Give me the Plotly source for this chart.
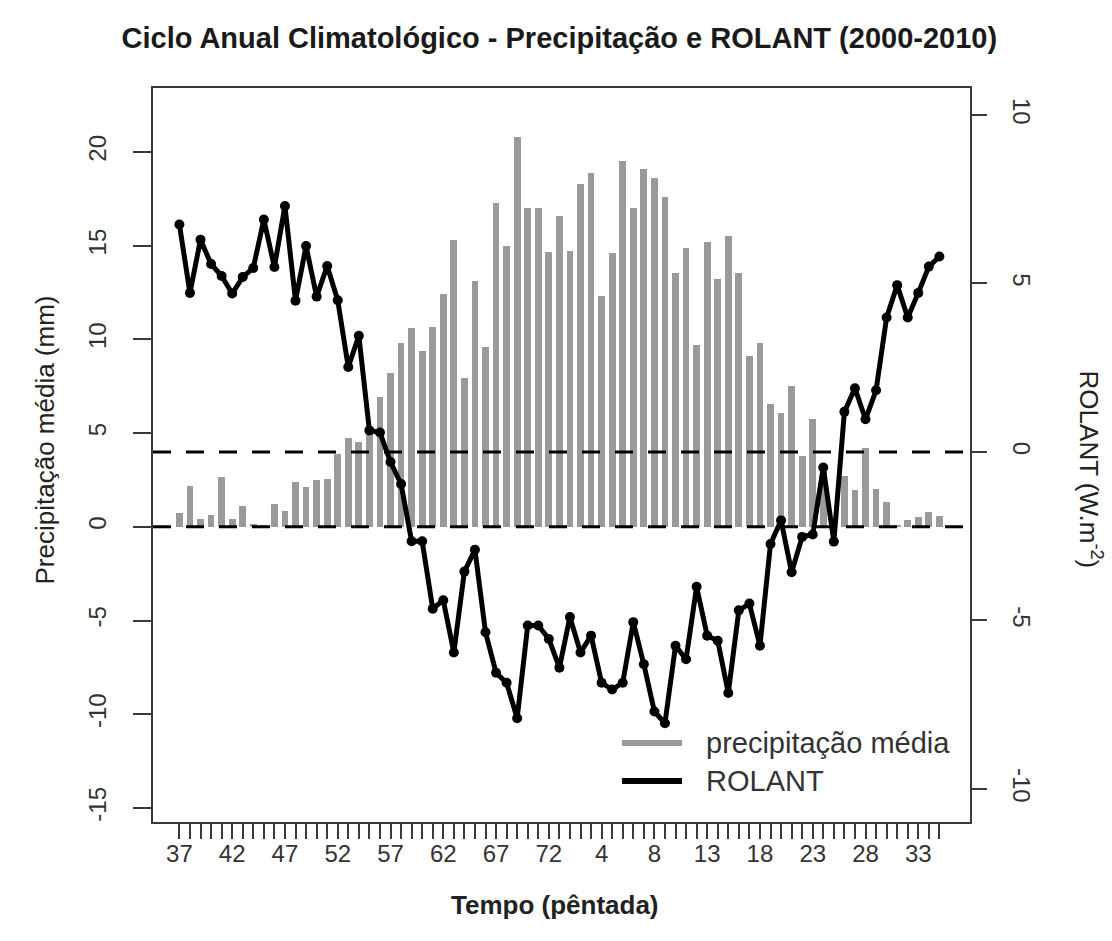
import plotly.graph_objects as go

# --- data -------------------------------------------------------------
pentadas = list(range(37, 74)) + list(range(1, 37))          # 73 pentads, Jul -> Jun
indice = list(range(1, len(pentadas) + 1))

precip_media = [0.75, 2.2, 0.4, 0.65, 2.65, 0.4, 1.1, 0.15, 0.05, 1.2,
                0.85, 2.4, 2.1, 2.5, 2.55, 3.9, 4.75, 4.5, 5.2, 6.95,
                8.2, 9.8, 10.6, 9.4, 10.65, 12.4, 15.3, 7.95, 13.1, 9.6,
                17.3, 15.0, 20.8, 17.0, 17.0, 14.65, 16.6, 14.7, 18.3, 18.9,
                12.3, 14.6, 19.5, 17.0, 19.1, 18.6, 17.6, 13.55, 14.9, 9.7,
                15.2, 13.2, 15.5, 13.55, 9.1, 9.8, 6.55, 6.05, 7.5, 3.8,
                5.75, 3.0, 0.4, 2.7, 1.95, 4.2, 2.0, 1.3, 0.1, 0.35,
                0.5, 0.8, 0.55]

rolant = [6.75, 4.72, 6.30, 5.58, 5.22, 4.70, 5.19, 5.46, 6.90, 5.49,
          7.30, 4.49, 6.11, 4.61, 5.52, 4.50, 2.52, 3.45, 0.64, 0.58,
          -0.30, -0.95, -2.65, -2.65, -4.65, -4.40, -5.95, -3.55, -2.90, -5.35,
          -6.55, -6.85, -7.90, -5.15, -5.15, -5.55, -6.40, -4.90, -5.95, -5.45,
          -6.85, -7.05, -6.85, -5.05, -6.30, -7.70, -8.05, -5.75, -6.15, -4.00,
          -5.45, -5.60, -7.15, -4.70, -4.50, -5.75, -2.73, -2.03, -3.57, -2.52,
          -2.45, -0.46, -2.66, 1.19, 1.89, 0.97, 1.83, 3.99, 4.95, 3.99,
          4.72, 5.50, 5.80]

# tick labels exactly as printed on the original chart (every 5th position)
rotulos_x = ["37", "42", "47", "52", "57", "62", "67", "72", "4", "8",
             "13", "18", "23", "28", "33"]
posicoes_rotulos = indice[::5]
ticks_y1 = [-15, -10, -5, 0, 5, 10, 15, 20]
ticks_y2 = [-10, -5, 0, 5, 10]

FONT = "Liberation Sans, Arial, sans-serif"
GRAY_BAR = "#9a9a9a"
AX = "#3a3a3a"

fig = go.Figure()
fig.add_trace(go.Bar(x=indice, y=precip_media, width=0.64, marker=dict(color=GRAY_BAR, line=dict(width=0)),
                     name="precipitação média", showlegend=False, yaxis="y"))
fig.add_trace(go.Scatter(x=indice, y=rolant, mode="lines+markers", yaxis="y2", name="ROLANT",
                         line=dict(color="black", width=5),
                         marker=dict(color="black", size=10, symbol="circle"),
                         showlegend=False))

# dashed zero lines (left-axis zero and right-axis zero)
for yref in ("y", "y2"):
    fig.add_shape(type="line", xref="paper", x0=0, x1=1, yref=yref, y0=0, y1=0,
                  line=dict(color="black", width=3, dash="18px,15px"), layer="above")

# manual legend (line samples + text)
leg = [("precipitação média", GRAY_BAR, 0.1076), ("ROLANT", "black", 0.0559)]
for txt, col, yy in leg:
    fig.add_shape(type="line", xref="paper", yref="paper", x0=0.574, x1=0.6475, y0=yy, y1=yy,
                  line=dict(color=col, width=6), layer="above")
    fig.add_annotation(xref="paper", yref="paper", x=0.675, y=yy, text=txt, showarrow=False,
                       xanchor="left", yanchor="middle",
                       font=dict(family=FONT, size=29, color="#333333"))

# axis titles as annotations
fig.add_annotation(xref="paper", yref="paper", x=-0.132, y=0.52, text="Precipitação média (mm)",
                   textangle=-90, showarrow=False, xanchor="center", yanchor="middle",
                   font=dict(family=FONT, size=26, color="#222222"))
fig.add_annotation(xref="paper", yref="paper", x=1.147, y=0.48, text="ROLANT (W.m<sup>-2</sup>)",
                   textangle=90, showarrow=False, xanchor="center", yanchor="middle",
                   font=dict(family=FONT, size=26, color="#222222"))
fig.add_annotation(xref="paper", yref="paper", x=0.492, y=-0.113, text="<b>Tempo (pêntada)</b>",
                   showarrow=False, xanchor="center", yanchor="middle",
                   font=dict(family=FONT, size=26, color="#222222"))

fig.update_layout(
    width=1112, height=941,
    margin=dict(l=153, r=142, t=88, b=119),
    paper_bgcolor="white", plot_bgcolor="white",
    title=dict(text="<b>Ciclo Anual Climatológico - Precipitação e ROLANT (2000-2010)</b>",
               x=0.503, xanchor="center", y=1 - 38 / 941, yanchor="middle",
               font=dict(family=FONT, size=29, color="#1a1a1a")),
    bargap=0,
    xaxis=dict(range=[-1.5, 75.9], tickmode="array", tickvals=posicoes_rotulos, ticktext=rotulos_x,
               ticks="outside", ticklen=15, tickwidth=1.5, tickcolor=AX,
               minor=dict(tickmode="array", tickvals=indice, ticks="outside", ticklen=15,
                          tickwidth=1.5, tickcolor=AX, showgrid=False),
               showline=True, mirror=True, linecolor=AX, linewidth=2,
               showgrid=False, zeroline=False, tickangle=0, ticklabelstandoff=-6,
               tickfont=dict(family=FONT, size=24, color="#333333")),
    yaxis=dict(range=[-15.75, 23.41], tickmode="array", tickvals=ticks_y1,
               ticktext=[str(v) for v in ticks_y1], tickangle=-90,
               ticks="outside", ticklen=18, tickwidth=1.5, tickcolor=AX,
               showline=True, linecolor=AX, linewidth=2, ticklabelstandoff=17,
               showgrid=False, zeroline=False,
               tickfont=dict(family=FONT, size=24, color="#333333")),
    yaxis2=dict(range=[-10.98, 10.80], overlaying="y", side="right", tickmode="array",
                tickvals=ticks_y2, ticktext=[str(v) for v in ticks_y2], tickangle=90,
                ticks="outside", ticklen=15, tickwidth=1.5, tickcolor=AX,
                showline=True, linecolor=AX, linewidth=2, ticklabelstandoff=16,
                showgrid=False, zeroline=False,
                tickfont=dict(family=FONT, size=24, color="#333333")),
)

fig.write_html("out.html", config={"displayModeBar": False},
               post_script="document.body.style.margin='0px';")
